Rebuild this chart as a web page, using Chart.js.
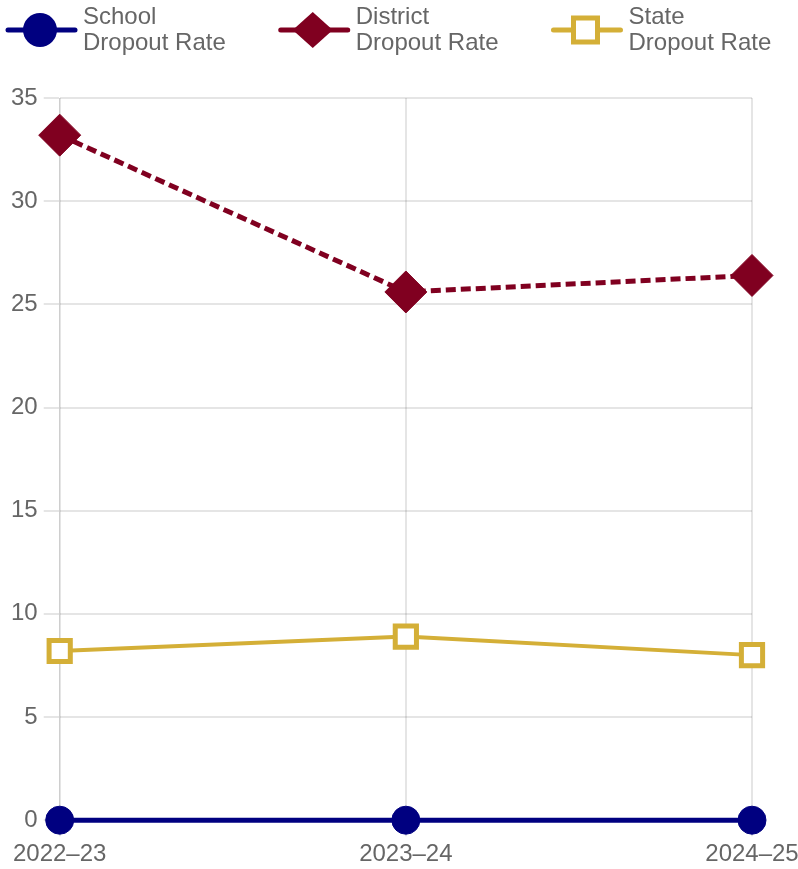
<!DOCTYPE html>
<html>
<head>
<meta charset="utf-8">
<script src="https://cdn.jsdelivr.net/npm/chart.js@4.4.1/dist/chart.umd.min.js"></script>
<style>
  html, body { margin: 0; padding: 0; background: #fff; }
  #wrap { width: 798px; height: 869px; position: relative; }
</style>
</head>
<body>
<div id="wrap"><canvas id="c"></canvas></div>
<script>
const years = ['2022\u201323', '2023\u201324', '2024\u201325'];
const seriesNames = [['School', 'Dropout Rate'], ['District', 'Dropout Rate'], ['State', 'Dropout Rate']];
const schoolRate = [0, 0, 0];
const districtRate = [33.2, 25.6, 26.4];
const stateRate = [8.2, 8.9, 8.0];
const yTicks = [0, 5, 10, 15, 20, 25, 30, 35];

const NAVY = '#000080';
const MAROON = '#800020';
const GOLD = '#D4AF37';
const FONT = '"Liberation Sans", Arial, sans-serif';

function drawIcon(g, kind, color, x, cy) {
  const W = 70;
  const cx = x + W / 2;
  g.save();
  g.strokeStyle = color;
  g.lineWidth = 5;
  g.lineCap = 'round';
  g.setLineDash([]);
  g.beginPath(); g.moveTo(x + 3, cy); g.lineTo(x + W, cy); g.stroke();
  if (kind === 'circle') {
    g.fillStyle = color;
    g.beginPath(); g.arc(cx, cy, 17, 0, Math.PI * 2); g.fill();
  } else if (kind === 'rectRot') {
    g.fillStyle = color;
    g.beginPath();
    g.moveTo(cx, cy - 18); g.lineTo(cx + 20, cy); g.lineTo(cx, cy + 18); g.lineTo(cx - 20, cy);
    g.closePath(); g.fill();
  } else {
    g.fillStyle = '#fff';
    g.fillRect(cx - 12, cy - 12, 24, 24);
    g.lineWidth = 5;
    g.lineCap = 'butt';
    g.strokeRect(cx - 12, cy - 12, 24, 24);
  }
  g.restore();
}

const legendPlugin = {
  id: 'twoLineLegend',
  afterDraw(chart) {
    const g = chart.ctx;
    g.save();
    g.font = '24px ' + FONT;
    g.fillStyle = '#666';
    g.textBaseline = 'middle';
    g.textAlign = 'left';
    let x = 5;
    chart.data.datasets.forEach(function(ds, i) {
      const lines = seriesNames[i];
      drawIcon(g, ds.pointStyle, ds.borderColor, x, 30);
      const tx = x + 78;
      let tw = 0;
      lines.forEach(function(t, k) {
        g.fillText(t, tx, 17 + k * 26);
        tw = Math.max(tw, g.measureText(t).width);
      });
      x = tx + tw + 52;
    });
    g.restore();
  }
};

Chart.defaults.font.family = FONT;
Chart.defaults.font.size = 24;
Chart.defaults.color = '#666';

new Chart(document.getElementById('c'), {
  type: 'line',
  data: {
    labels: years,
    datasets: [
      {
        label: seriesNames[0].join(' '),
        data: schoolRate,
        borderColor: NAVY,
        backgroundColor: NAVY,
        borderWidth: 5,
        pointStyle: 'circle',
        pointRadius: 14,
        pointBorderWidth: 1,
        pointBackgroundColor: NAVY,
        pointBorderColor: NAVY,
        clip: false,
        tension: 0
      },
      {
        label: seriesNames[1].join(' '),
        data: districtRate,
        borderColor: MAROON,
        backgroundColor: MAROON,
        borderWidth: 5,
        borderDash: [10, 5],
        pointStyle: 'rectRot',
        pointRadius: 21,
        pointBorderWidth: 1,
        pointBackgroundColor: MAROON,
        pointBorderColor: MAROON,
        clip: false,
        tension: 0
      },
      {
        label: seriesNames[2].join(' '),
        data: stateRate,
        borderColor: GOLD,
        backgroundColor: '#fff',
        borderWidth: 4,
        pointStyle: 'rect',
        pointRadius: 15,
        pointBorderWidth: 5,
        pointBackgroundColor: '#fff',
        pointBorderColor: GOLD,
        clip: false,
        tension: 0
      }
    ]
  },
  plugins: [legendPlugin],
  options: {
    responsive: true,
    maintainAspectRatio: false,
    animation: false,
    layout: { padding: { left: 5, top: 98, right: 0, bottom: -4 } },
    plugins: {
      tooltip: { enabled: false },
      legend: { display: false }
    },
    scales: {
      x: {
        grid: { color: 'rgba(0,0,0,0.1)', lineWidth: 2, tickLength: 16 },
        ticks: { padding: 4, maxRotation: 0, autoSkip: false },
        afterFit: function(scale) { scale.paddingRight = 46; }
      },
      y: {
        min: 0,
        max: 35,
        afterBuildTicks: function(axis) { axis.ticks = yTicks.map(function(v) { return { value: v }; }); },
        grid: { color: 'rgba(0,0,0,0.1)', lineWidth: 2, tickLength: 16 },
        ticks: { padding: 6 }
      }
    }
  }
});
</script>
</body>
</html>
